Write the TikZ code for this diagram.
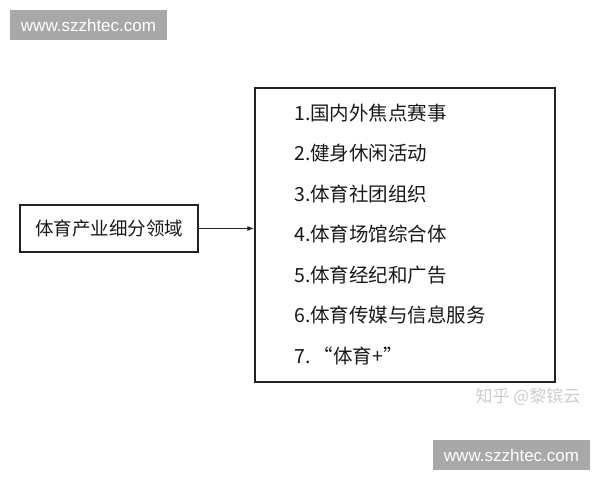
\documentclass[tikz,border=0pt]{standalone}
\usepackage{fontspec}
\setmainfont{Liberation Sans}
\newfontfamily\cjk{Noto Sans CJK SC}
\usetikzlibrary{arrows.meta}

\definecolor{markgray}{HTML}{A8A8A8}
\definecolor{linegray}{HTML}{222222}

\tikzset{
	framebox/.style={draw=linegray, line width=1.4pt, inner sep=0pt},
	itemtext/.style={anchor=west, inner sep=0pt, font=\cjk\fontsize{19.5}{22}\selectfont, text=black!90},
	sitemark/.style={fill=markgray, text=white, minimum width=157pt, minimum height=30pt, inner sep=0pt, font=\fontsize{17}{19}\selectfont},
}

\begin{document}
\begin{tikzpicture}[x=1pt,y=-1pt]
	\useasboundingbox (0,0) rectangle (600,480);
	%\draw[help lines] (0,0) grid[step=50] (600,480);
	\node[sitemark] (topmark) at (88.5,25) {www.szzhtec.com};
	\node[sitemark] (bottommark) at (511.5,455) {www.szzhtec.com};
	\node[framebox, minimum width=178pt, minimum height=47pt, font=\cjk\fontsize{18.5}{22}\selectfont, text=black!90] (field) at (109,228.5) {体育产业细分领域};
	\node[framebox, minimum width=300pt, minimum height=294pt] (list) at (405,235) {};
	% the seven items
	\foreach \n/\txt in {1/1.国内外焦点赛事, 2/2.健身休闲活动, 3/3.体育社团组织, 4/4.体育场馆综合体, 5/5.体育经纪和广告, 6/6.体育传媒与信息服务, 7/7.\,“体育+”}
		\node[itemtext] (item\n) at (294,{113+40.5*(\n-1)}) {\txt};
	\draw[-{Latex[length=7pt,width=5pt]}, line width=1.2pt, linegray] (field.east) -- (field.east -| list.west);
	\node[font=\cjk\fontsize{17}{19}\selectfont, text=black!20] (zhihu) at (528,397) {知乎 @黎镔云};
\end{tikzpicture}
\end{document}
